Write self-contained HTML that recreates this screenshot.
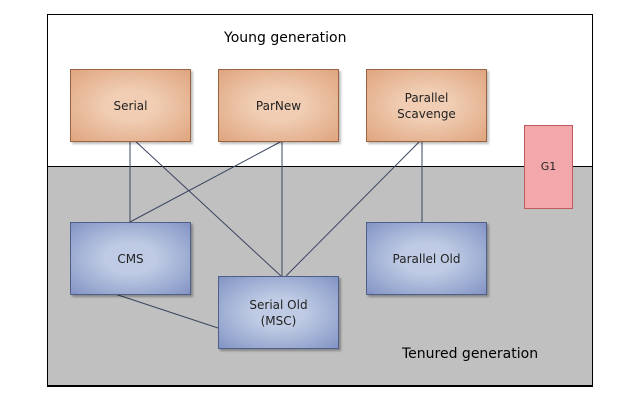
<!DOCTYPE html>
<html><head><style>
body{margin:0;width:634px;height:405px;background:#fff;position:relative;overflow:hidden;font-family:"DejaVu Sans","Liberation Sans",sans-serif;}
.frame{position:absolute;left:47px;top:14px;width:544px;height:371px;border:1px solid #000;background:#fff;}
.gray{position:absolute;left:48px;top:166px;width:544px;height:219px;background:#c0c0c0;border-top:1px solid #000;}
.b{position:absolute;display:flex;align-items:center;justify-content:center;text-align:center;font-size:12px;color:#222;box-sizing:border-box;line-height:16px;}
.o{background:radial-gradient(ellipse at center,#f0cdb3 30%,#dfa47e 100%);border:1px solid #9a6440;box-shadow:2px 2px 2px rgba(0,0,0,.25);}
.bl{background:radial-gradient(ellipse at center,#bfcbe4 30%,#8294c4 100%);border:1px solid #4f5f8a;box-shadow:2px 2px 2px rgba(0,0,0,.3);}
.t{position:absolute;font-size:14px;color:#000;}
</style></head><body>
<div class="frame"></div>
<div class="gray"></div>
<div style="position:absolute;left:47px;top:385px;width:546px;height:1px;background:#000"></div>
<svg style="position:absolute;left:0;top:0" width="634" height="405">
<g stroke="#3a4660" stroke-width="1" fill="none">
<line x1="130" y1="140" x2="130" y2="222"/>
<line x1="133" y1="139" x2="281" y2="276"/>
<line x1="282" y1="141" x2="130" y2="222"/>
<line x1="282" y1="141" x2="282" y2="276"/>
<line x1="420" y1="141" x2="286" y2="276"/>
<line x1="422" y1="141" x2="422" y2="222"/>
<line x1="115" y1="294" x2="218" y2="328"/>
</g></svg>
<div class="t" style="left:224px;top:30px">Young generation</div>
<div class="t" style="left:402px;top:346px">Tenured generation</div>
<div class="b o" style="left:70px;top:69px;width:121px;height:73px">Serial</div>
<div class="b o" style="left:218px;top:69px;width:121px;height:73px">ParNew</div>
<div class="b o" style="left:366px;top:69px;width:121px;height:73px">Parallel<br>Scavenge</div>
<div class="b" style="left:524px;top:125px;width:49px;height:84px;background:#f2a8ab;border:1px solid #c05a5e;font-size:11px">G1</div>
<div class="b bl" style="left:70px;top:222px;width:121px;height:73px">CMS</div>
<div class="b bl" style="left:218px;top:276px;width:121px;height:73px">Serial Old<br>(MSC)</div>
<div class="b bl" style="left:366px;top:222px;width:121px;height:73px">Parallel Old</div>
</body></html>
